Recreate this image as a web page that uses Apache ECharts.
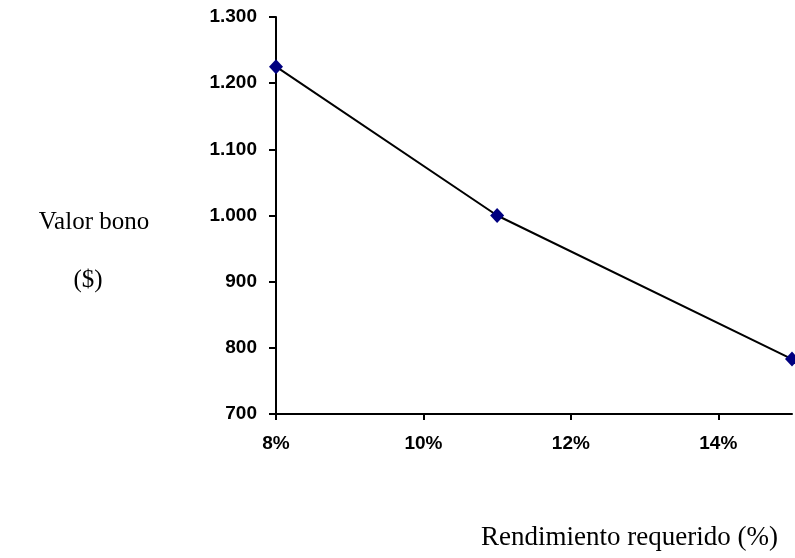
<!DOCTYPE html>
<html>
<head>
<meta charset="utf-8">
<script src="https://cdn.jsdelivr.net/npm/echarts@6/dist/echarts.min.js"></script>
<style>
html,body{margin:0;padding:0;background:#fff;}
#chart{width:795px;height:558px;}
</style>
</head>
<body>
<div id="chart"></div>
<script>
var rates = [8, 11, 15];
var bondValues = [1225, 1000, 783];
var xTicks = [8, 10, 12, 14];
var yTicks = [700, 800, 900, 1000, 1100, 1200, 1300];
var yTitle1 = 'Valor bono';
var yTitle2 = '($)';
var xTitle = 'Rendimiento requerido (%)';

function fmtThousands(v) {
  return String(v).replace(/\B(?=(\d{3})+(?!\d))/g, '.');
}

var chart = echarts.init(document.getElementById('chart'), null, {renderer: 'canvas'});
var labelFont = {fontFamily: 'Liberation Sans, Arial, sans-serif', fontWeight: 'bold', fontSize: 19, color: '#000'};
var serif = '"Liberation Serif", "Times New Roman", serif';
chart.setOption({
  animation: false,
  backgroundColor: '#fff',
  grid: {left: 276, top: 17, right: 3, bottom: 144, containLabel: false},
  xAxis: {
    type: 'value', min: 8, max: 15, interval: 2,
    splitLine: {show: false},
    axisLine: {lineStyle: {color: '#000', width: 2}},
    axisTick: {length: 6, lineStyle: {color: '#000', width: 2}, customValues: xTicks},
    axisLabel: Object.assign({margin: 20, formatter: function (v) { return v + '%'; }, customValues: xTicks}, labelFont)
  },
  yAxis: {
    type: 'value', min: 700, max: 1300, interval: 100,
    splitLine: {show: false},
    axisLine: {show: true, lineStyle: {color: '#000', width: 2}},
    axisTick: {show: true, length: 7, lineStyle: {color: '#000', width: 2}},
    axisLabel: Object.assign({margin: 19, formatter: function (v) { return fmtThousands(v); }}, labelFont)
  },
  series: [{
    type: 'line',
    data: rates.map(function (r, i) { return [r, bondValues[i]]; }),
    lineStyle: {color: '#000', width: 2},
    symbol: 'diamond',
    symbolSize: [14, 15],
    itemStyle: {color: '#000080'},
    clip: false,
    z: 3
  }],
  graphic: [
    {type: 'text', x: 94, y: 222, style: {text: yTitle1, font: '25px ' + serif, fill: '#000', align: 'center', verticalAlign: 'middle'}},
    {type: 'text', x: 88, y: 280, style: {text: yTitle2, font: '25px ' + serif, fill: '#000', align: 'center', verticalAlign: 'middle'}},
    {type: 'text', x: 778, y: 538, style: {text: xTitle, font: '27px ' + serif, fill: '#000', align: 'right', verticalAlign: 'middle'}}
  ]
});
</script>
</body>
</html>
